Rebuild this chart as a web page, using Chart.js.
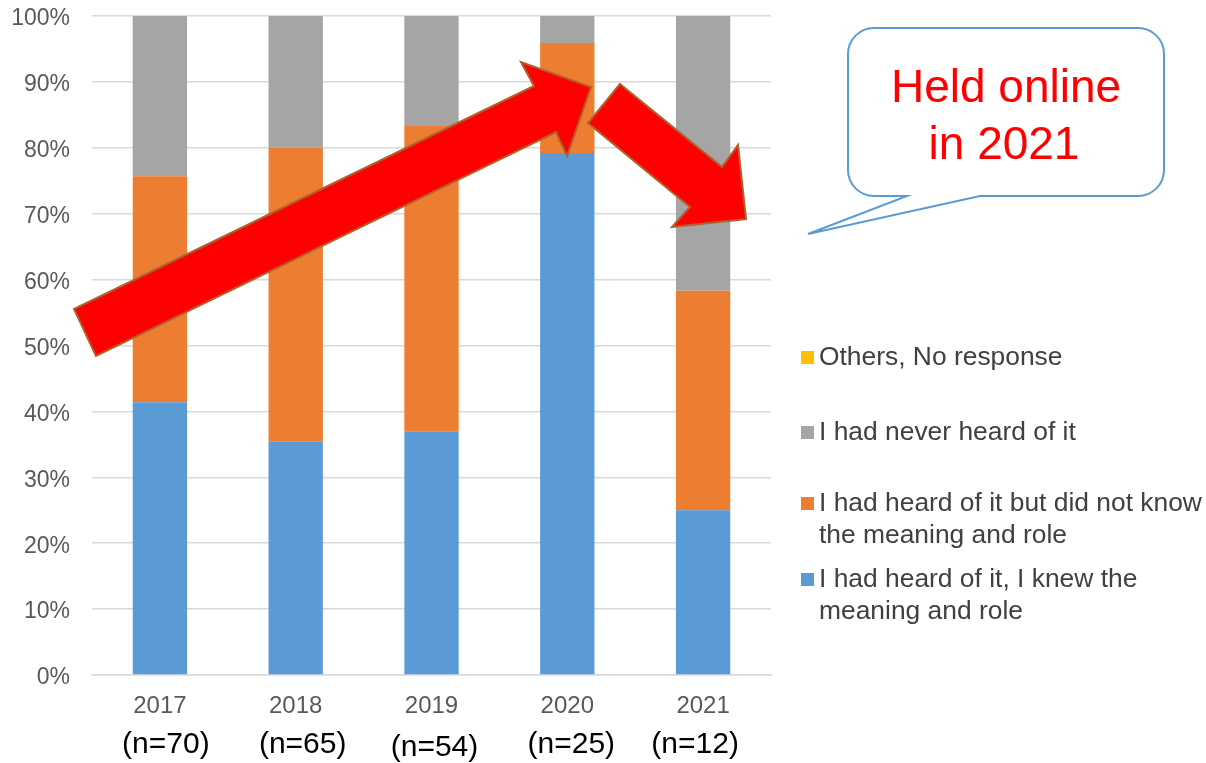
<!DOCTYPE html>
<html>
<head>
<meta charset="utf-8">
<script src="https://cdn.jsdelivr.net/npm/chart.js@4.4.1/dist/chart.umd.min.js"></script>
<style>
  html, body { margin: 0; padding: 0; background: #ffffff; }
  #wrap { width: 1206px; height: 763px; position: relative; }
</style>
</head>
<body>
<div id="wrap"><canvas id="c" width="1206" height="763"></canvas></div>
<script>
// Survey years and respondent counts
const years = ['2017', '2018', '2019', '2020', '2021'];
const sampleSizes = ['(n=70)', '(n=65)', '(n=54)', '(n=25)', '(n=12)'];

// Share of respondents (%) per answer
const knewMeaning = [41.4, 35.4, 37.0, 79.2, 25.0];
const heardNotKnow = [34.3, 44.6, 46.3, 16.7, 33.3];
const neverHeard = [24.3, 20.0, 16.7, 4.2, 41.7];
const othersNoResponse = [0, 0, 0, 0, 0];

const yTicks = [0, 10, 20, 30, 40, 50, 60, 70, 80, 90, 100];

const seriesNames = [
  'I had heard of it, I knew the meaning and role',
  'I had heard of it but did not know the meaning and role',
  'I had never heard of it',
  'Others, No response'
];
const colors = ['#5B9BD5', '#ED7D31', '#A5A5A5', '#FFC000'];

const FONT = '"Liberation Sans", Arial, sans-serif';

// Sample-size captions under the year labels
const sampleSizePlugin = {
  id: 'sampleSizes',
  afterDraw(chart) {
    const ctx = chart.ctx;
    const xs = chart.scales.x;
    ctx.save();
    ctx.font = '30px ' + FONT;
    ctx.fillStyle = '#000000';
    ctx.textAlign = 'center';
    ctx.textBaseline = 'middle';
    sampleSizes.forEach((s, i) => {
      const x = xs.getPixelForValue(i) + [6, 7, 3, 4, -8][i];
      const y = i === 2 ? 748 : 745;
      ctx.fillText(s, x, y);
    });
    ctx.restore();
  }
};

// Legend on the right, listed top to bottom in stack order
const sideLegendPlugin = {
  id: 'sideLegend',
  afterDraw(chart) {
    const ctx = chart.ctx;
    const items = [
      { color: colors[3], lines: ['Others, No response'], y: 358 },
      { color: colors[2], lines: ['I had never heard of it'], y: 433 },
      { color: colors[1], lines: ['I had heard of it but did not know', 'the meaning and role'], y: 504 },
      { color: colors[0], lines: ['I had heard of it, I knew the', 'meaning and role'], y: 580 }
    ];
    ctx.save();
    ctx.font = '26.4px ' + FONT;
    ctx.textAlign = 'left';
    ctx.textBaseline = 'middle';
    items.forEach(it => {
      ctx.fillStyle = it.color;
      ctx.fillRect(801, it.y - 7, 13, 13);
      ctx.fillStyle = '#404040';
      it.lines.forEach((ln, k) => ctx.fillText(ln, 819, it.y + k * 32));
    });
    ctx.restore();
  }
};

// Trend arrows and the speech-bubble note
const annotationPlugin = {
  id: 'annotations',
  afterDraw(chart) {
    const ctx = chart.ctx;
    const poly = (pts) => {
      ctx.beginPath();
      ctx.moveTo(pts[0][0], pts[0][1]);
      for (let i = 1; i < pts.length; i++) ctx.lineTo(pts[i][0], pts[i][1]);
      ctx.closePath();
      ctx.fillStyle = '#FF0000';
      ctx.fill();
      ctx.lineWidth = 2;
      ctx.strokeStyle = '#B0602B';
      ctx.lineJoin = 'miter';
      ctx.stroke();
    };
    ctx.save();
    poly([[96, 356], [74, 309], [534, 86], [521, 62], [591, 87], [567, 156], [556, 132]]);
    poly([[620, 84], [722, 167], [738, 145], [746, 219], [672, 227], [690, 207], [588, 123]]);

    // speech bubble
    const L = 848, T = 28, R = 1164, B = 196, r = 26;
    ctx.beginPath();
    ctx.moveTo(L + r, T);
    ctx.lineTo(R - r, T);
    ctx.arcTo(R, T, R, T + r, r);
    ctx.lineTo(R, B - r);
    ctx.arcTo(R, B, R - r, B, r);
    ctx.lineTo(980, B);
    ctx.lineTo(808, 234);
    ctx.lineTo(907, B);
    ctx.lineTo(L + r, B);
    ctx.arcTo(L, B, L, B - r, r);
    ctx.lineTo(L, T + r);
    ctx.arcTo(L, T, L + r, T, r);
    ctx.closePath();
    ctx.fillStyle = '#FFFFFF';
    ctx.fill();
    ctx.lineWidth = 2;
    ctx.strokeStyle = '#5B9BD5';
    ctx.stroke();

    ctx.font = '46px ' + FONT;
    ctx.fillStyle = '#FF0000';
    ctx.textAlign = 'center';
    ctx.textBaseline = 'alphabetic';
    ctx.fillText('Held online', 1006, 102);
    ctx.fillText('in 2021', 1004, 159);
    ctx.restore();
  }
};

const data = {
  labels: years,
  datasets: [
    { label: seriesNames[0], data: knewMeaning, backgroundColor: colors[0] },
    { label: seriesNames[1], data: heardNotKnow, backgroundColor: colors[1] },
    { label: seriesNames[2], data: neverHeard, backgroundColor: colors[2] },
    { label: seriesNames[3], data: othersNoResponse, backgroundColor: colors[3] }
  ].map(d => Object.assign(d, { barPercentage: 0.4, categoryPercentage: 1.0, borderWidth: 0 }))
};

new Chart(document.getElementById('c'), {
  type: 'bar',
  data,
  plugins: [sampleSizePlugin, sideLegendPlugin, annotationPlugin],
  options: {
    responsive: false,
    animation: false,
    layout: { padding: { top: 16, right: 435, left: 0, bottom: 0 } },
    plugins: { legend: { display: false }, tooltip: { enabled: false } },
    scales: {
      x: {
        stacked: true,
        grid: { display: false },
        border: { display: true, color: '#D9D9D9', width: 1.5 },
        ticks: { color: '#595959', font: { family: FONT, size: 24 }, padding: 9 },
        afterFit(s) { s.height = 88; s.paddingLeft = 0; s.paddingRight = 0; }
      },
      y: {
        stacked: true,
        min: 0,
        max: 100,
        afterBuildTicks(s) { s.ticks = yTicks.map(v => ({ value: v })); },
        grid: { color: '#D9D9D9', lineWidth: 1.5, drawTicks: false },
        border: { display: false },
        ticks: {
          color: '#595959',
          font: { family: FONT, size: 23 },
          padding: 22,
          labelOffset: 3,
          callback: v => v + '%'
        },
        afterFit(s) { s.width = 92; s.paddingTop = 0; s.paddingBottom = 0; }
      }
    }
  }
});
</script>
</body>
</html>
